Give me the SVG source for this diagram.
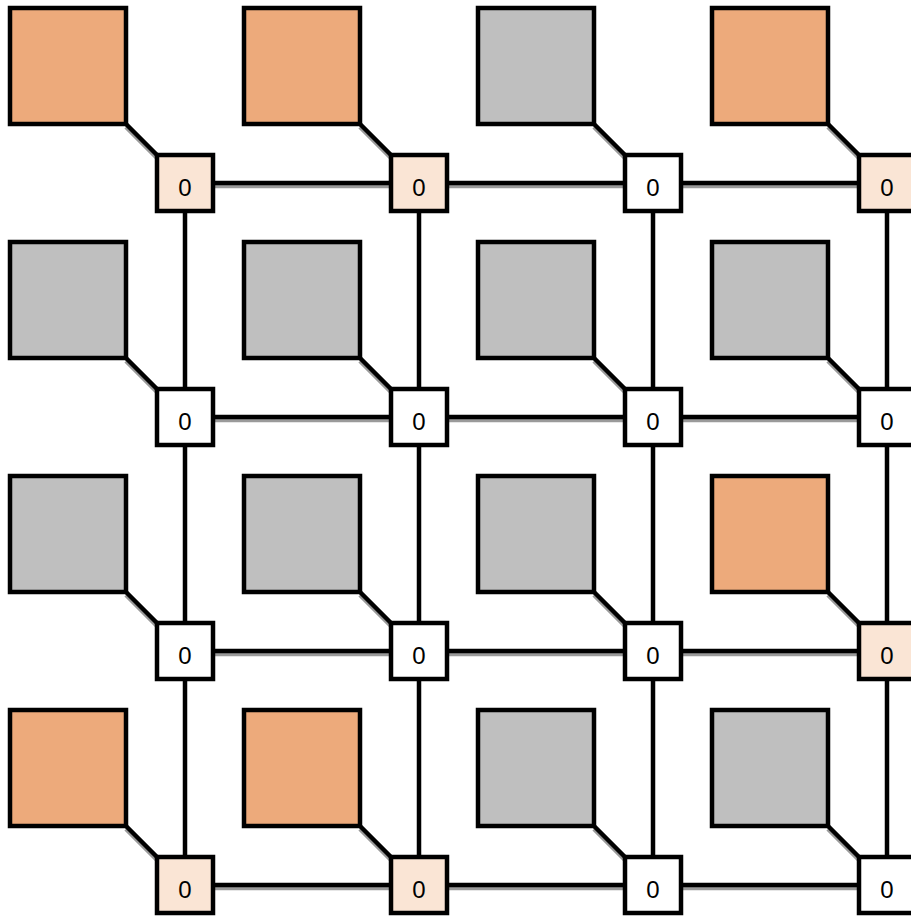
<svg xmlns="http://www.w3.org/2000/svg" width="911" height="916" viewBox="0 0 911 916">
<style>
.sq{stroke:#000;stroke-width:4.5}
.o{fill:#EDAA7B}
.g{fill:#BFBFBF}
.n{stroke:#000;stroke-width:4.5;fill:#fff}
.nl{fill:#FAE5D5}
.c{stroke:#000;stroke-width:4.5;fill:none}
.s{stroke:#9a9a9a;stroke-width:4.5;fill:none}
</style>
<g id="connectors">
<g transform="translate(0,3)">
<path class="s" d="M126,124L157,155M360,124L391,155M594,124L625,155M828,124L859,155M126,358L157,389M360,358L391,389M594,358L625,389M828,358L859,389M126,592L157,623M360,592L391,623M594,592L625,623M828,592L859,623M126,826L157,857M360,826L391,857M594,826L625,857M828,826L859,857"/>
<path class="s" d="M213,183H391M447,183H625M681,183H859M213,417H391M447,417H625M681,417H859M213,651H391M447,651H625M681,651H859M213,885H391M447,885H625M681,885H859"/>
</g>
<path class="c" d="M126,124L157,155M360,124L391,155M594,124L625,155M828,124L859,155M126,358L157,389M360,358L391,389M594,358L625,389M828,358L859,389M126,592L157,623M360,592L391,623M594,592L625,623M828,592L859,623M126,826L157,857M360,826L391,857M594,826L625,857M828,826L859,857"/>
<path class="c" d="M213,183H391M447,183H625M681,183H859M213,417H391M447,417H625M681,417H859M213,651H391M447,651H625M681,651H859M213,885H391M447,885H625M681,885H859"/>
<path class="c" d="M185,211V389M419,211V389M653,211V389M887,211V389M185,445V623M419,445V623M653,445V623M887,445V623M185,679V857M419,679V857M653,679V857M887,679V857"/>
</g>
<g id="tiles">
<rect id="t00" class="sq o" x="10" y="8" width="116" height="116"/>
<rect id="t01" class="sq o" x="244" y="8" width="116" height="116"/>
<rect id="t02" class="sq g" x="478" y="8" width="116" height="116"/>
<rect id="t03" class="sq o" x="712" y="8" width="116" height="116"/>
<rect id="t10" class="sq g" x="10" y="242" width="116" height="116"/>
<rect id="t11" class="sq g" x="244" y="242" width="116" height="116"/>
<rect id="t12" class="sq g" x="478" y="242" width="116" height="116"/>
<rect id="t13" class="sq g" x="712" y="242" width="116" height="116"/>
<rect id="t20" class="sq g" x="10" y="476" width="116" height="116"/>
<rect id="t21" class="sq g" x="244" y="476" width="116" height="116"/>
<rect id="t22" class="sq g" x="478" y="476" width="116" height="116"/>
<rect id="t23" class="sq o" x="712" y="476" width="116" height="116"/>
<rect id="t30" class="sq o" x="10" y="710" width="116" height="116"/>
<rect id="t31" class="sq o" x="244" y="710" width="116" height="116"/>
<rect id="t32" class="sq g" x="478" y="710" width="116" height="116"/>
<rect id="t33" class="sq g" x="712" y="710" width="116" height="116"/>
</g>
<g id="nodes" style="font-family:'Liberation Sans',Arial,sans-serif;font-size:24px;fill:#000" text-anchor="middle">
<g id="n00"><rect class="n nl" x="157" y="155" width="56" height="56"/><text x="185" y="196" style="font-size:24px">0</text></g>
<g id="n01"><rect class="n nl" x="391" y="155" width="56" height="56"/><text x="419" y="196" style="font-size:24px">0</text></g>
<g id="n02"><rect class="n" x="625" y="155" width="56" height="56"/><text x="653" y="196" style="font-size:24px">0</text></g>
<g id="n03"><rect class="n nl" x="859" y="155" width="56" height="56"/><text x="887" y="196" style="font-size:24px">0</text></g>
<g id="n10"><rect class="n" x="157" y="389" width="56" height="56"/><text x="185" y="430" style="font-size:24px">0</text></g>
<g id="n11"><rect class="n" x="391" y="389" width="56" height="56"/><text x="419" y="430" style="font-size:24px">0</text></g>
<g id="n12"><rect class="n" x="625" y="389" width="56" height="56"/><text x="653" y="430" style="font-size:24px">0</text></g>
<g id="n13"><rect class="n" x="859" y="389" width="56" height="56"/><text x="887" y="430" style="font-size:24px">0</text></g>
<g id="n20"><rect class="n" x="157" y="623" width="56" height="56"/><text x="185" y="664" style="font-size:24px">0</text></g>
<g id="n21"><rect class="n" x="391" y="623" width="56" height="56"/><text x="419" y="664" style="font-size:24px">0</text></g>
<g id="n22"><rect class="n" x="625" y="623" width="56" height="56"/><text x="653" y="664" style="font-size:24px">0</text></g>
<g id="n23"><rect class="n nl" x="859" y="623" width="56" height="56"/><text x="887" y="664" style="font-size:24px">0</text></g>
<g id="n30"><rect class="n nl" x="157" y="857" width="56" height="56"/><text x="185" y="898" style="font-size:24px">0</text></g>
<g id="n31"><rect class="n nl" x="391" y="857" width="56" height="56"/><text x="419" y="898" style="font-size:24px">0</text></g>
<g id="n32"><rect class="n" x="625" y="857" width="56" height="56"/><text x="653" y="898" style="font-size:24px">0</text></g>
<g id="n33"><rect class="n" x="859" y="857" width="56" height="56"/><text x="887" y="898" style="font-size:24px">0</text></g>
</g>
</svg>
